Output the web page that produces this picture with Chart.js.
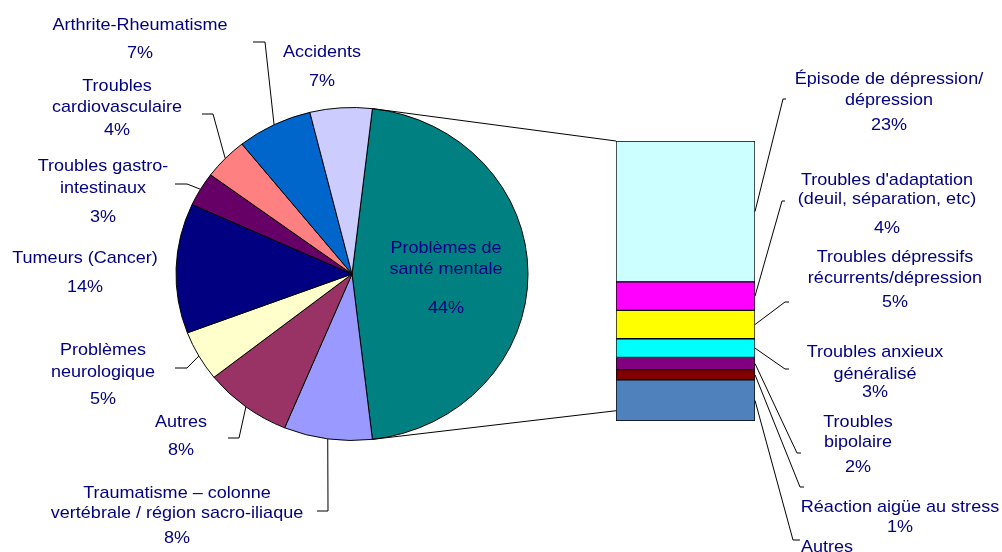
<!DOCTYPE html>
<html>
<head>
<meta charset="utf-8">
<script src="https://cdn.jsdelivr.net/npm/chart.js@4/dist/chart.umd.min.js"></script>
<style>
  html, body { margin: 0; padding: 0; background: #fff; }
  #wrap { position: relative; width: 1002px; height: 552px; overflow: hidden; }
  #wrap canvas { position: absolute; left: 0; top: 0; }
</style>
</head>
<body>
<div id="wrap">
  <canvas id="pie" width="1002" height="552"></canvas>
  <canvas id="bar" width="1002" height="552"></canvas>
</div>
<script>
// pie: causes (clockwise from the mental health slice)
const pieLabels = ['Problèmes de santé mentale', 'Traumatisme – colonne vertébrale / région sacro-iliaque',
  'Autres', 'Problèmes neurologique', 'Tumeurs (Cancer)', 'Troubles gastro-intestinaux',
  'Troubles cardiovasculaire', 'Arthrite-Rheumatisme', 'Accidents'];
const pieValues = [46.3, 8.1, 8.1, 4.9, 12.6, 3.3, 4.1, 6.9, 5.7];
const piePct = ['44%', '8%', '8%', '5%', '14%', '3%', '4%', '7%', '7%'];
const pieColors = ['#008080', '#9999FF', '#993366', '#FFFFCC', '#000080', '#660066', '#FF8080', '#0066CC', '#CCCCFF'];

// bar: split of the mental health slice (top to bottom)
const barLabels = ['Épisode de dépression/ dépression', "Troubles d'adaptation (deuil, séparation, etc)",
  'Troubles dépressifs récurrents/dépression', 'Troubles anxieux généralisé', 'Troubles bipolaire',
  'Réaction aigüe au stress', 'Autres'];
const barValues = [23.3, 4.7, 4.7, 3.1, 2.0, 1.7, 6.8];
const barPct = ['23%', '4%', '5%', '3%', '2%', '1%', '6%'];
const barColors = ['#CCFFFF', '#FF00FF', '#FFFF00', '#00FFFF', '#800080', '#800000', '#4F81BD'];

const TEXT = '#000080';
const FONT = '17px "Liberation Sans", Arial, sans-serif';
const Y_SQUASH = 0.946;   // the pie is a little flatter than round
const X_STRETCH = 1.06;   // text is a little wide too

// label layout: text lines, centre x, line y's, leader elbow + end (or null)
const pieLayout = [
  { lines: ['Problèmes de', 'santé mentale', '%'], x: 446, ys: [248, 269, 308], lead: null },
  { lines: ['Traumatisme – colonne', 'vertébrale / région sacro-iliaque', '%'], x: 177, ys: [493, 513, 538], lead: [[328, 511], [317, 511]] },
  { lines: ['Autres', '%'], x: 181, ys: [422, 450], lead: [[239, 438], [228, 438]] },
  { lines: ['Problèmes', 'neurologique', '%'], x: 103, ys: [350, 372, 399], lead: [[187, 368], [175, 368]] },
  { lines: ['Tumeurs (Cancer)', '%'], x: 85, ys: [258, 287], lead: null },
  { lines: ['Troubles gastro-', 'intestinaux', '%'], x: 103, ys: [166, 188, 217], lead: [[187, 184], [175, 184]] },
  { lines: ['Troubles', 'cardiovasculaire', '%'], x: 117, ys: [86, 107, 130], lead: [[213, 114], [202, 114]] },
  { lines: ['Arthrite-Rheumatisme', '%'], x: 140, ys: [25, 53], lead: [[265, 42], [253, 42]] },
  { lines: ['Accidents', '%'], x: 322, ys: [52, 81], lead: null }
];
const barLayout = [
  { lines: ['Épisode de dépression/', 'dépression', '%'], x: 889, ys: [79, 100, 125], lead: [[783, 99], [786, 99]] },
  { lines: ["Troubles d'adaptation", '(deuil, séparation, etc)', '%'], x: 887, ys: [180, 199, 228], lead: [[782, 201], [785, 201]] },
  { lines: ['Troubles dépressifs', 'récurrents/dépression', '%'], x: 895, ys: [257, 278, 302], lead: [[785, 302], [789, 302]] },
  { lines: ['Troubles anxieux', 'généralisé', '%'], x: 875, ys: [352, 374, 392], lead: [[785, 369], [789, 369]] },
  { lines: ['Troubles', 'bipolaire', '%'], x: 858, ys: [422, 442, 467], lead: [[797, 453], [801, 453]] },
  { lines: ['Réaction aigüe au stress', '%'], x: 900, ys: [507, 527], lead: [[800, 487], [804, 487]] },
  { lines: ['Autres'], x: 827, ys: [547], lead: [[793, 540], [800, 540]] }
];

function drawText(ctx, lay, pct) {
  ctx.save();
  ctx.font = FONT;
  ctx.fillStyle = TEXT;
  ctx.textAlign = 'center';
  ctx.textBaseline = 'middle';
  lay.lines.forEach(function(t, i) {
    const s = t === '%' ? pct : t;
    ctx.save();
    ctx.translate(lay.x, lay.ys[i]);
    ctx.scale(X_STRETCH, 1);
    ctx.fillText(s, 0, 0);
    ctx.restore();
  });
  ctx.restore();
}

function polyline(ctx, pts, color) {
  ctx.save();
  ctx.strokeStyle = color;
  ctx.lineWidth = 1;
  ctx.beginPath();
  ctx.moveTo(pts[0][0], pts[0][1]);
  for (let i = 1; i < pts.length; i++) ctx.lineTo(pts[i][0], pts[i][1]);
  ctx.stroke();
  ctx.restore();
}

function edgePoint(arc, angle) {
  return [arc.x + arc.outerRadius * Math.cos(angle), arc.y + arc.outerRadius * Y_SQUASH * Math.sin(angle)];
}

const ellipsePlugin = {
  id: 'ellipse',
  beforeDatasetsDraw(chart) {
    const arc = chart.getDatasetMeta(0).data[0];
    const ctx = chart.ctx;
    ctx.save();
    ctx.translate(arc.x, arc.y);
    ctx.scale(1, Y_SQUASH);
    ctx.translate(-arc.x, -arc.y);
  },
  afterDatasetsDraw(chart) {
    chart.ctx.restore();
  },
  afterDraw(chart) {
    const ctx = chart.ctx;
    const arcs = chart.getDatasetMeta(0).data;
    pieLayout.forEach(function(lay, i) {
      if (lay.lead) {
        const a = arcs[i];
        const p = edgePoint(a, (a.startAngle + a.endAngle) / 2);
        polyline(ctx, [p, lay.lead[0], lay.lead[1]], '#000');
      }
      drawText(ctx, lay, piePct[i]);
    });
  }
};

// centre the pie at ~(352,274), radius 176
const pieChart = new Chart(document.getElementById('pie'), {
  type: 'pie',
  data: {
    labels: pieLabels,
    datasets: [{
      data: pieValues,
      backgroundColor: pieColors,
      borderColor: '#000',
      borderWidth: 1,
      radius: 176
    }]
  },
  options: {
    responsive: false,
    animation: false,
    rotation: 90 - pieValues[0] / 100 * 180,
    layout: { padding: { left: 152, right: 450, top: 74, bottom: 78 } },
    plugins: { legend: { display: false }, tooltip: { enabled: false } }
  },
  plugins: [ellipsePlugin]
});

const barSum = barValues.reduce(function(a, b) { return a + b; }, 0);

const barLabelPlugin = {
  id: 'barLabels',
  afterDraw(chart) {
    const ctx = chart.ctx;
    const n = barValues.length;
    // connector lines from the mental health slice to the bar
    const arc = pieChart.getDatasetMeta(0).data[0];
    const topEl = chart.getDatasetMeta(n - 1).data[0];
    const botEl = chart.getDatasetMeta(0).data[0];
    const left = topEl.x - topEl.width / 2;
    polyline(ctx, [edgePoint(arc, arc.startAngle), [left, topEl.y]], '#000');
    polyline(ctx, [edgePoint(arc, arc.endAngle), [left, botEl.base - (botEl.base - botEl.y) / 4]], '#000');

    barLayout.forEach(function(lay, i) {
      const el = chart.getDatasetMeta(n - 1 - i).data[0];
      const p = [el.x + el.width / 2, (el.y + el.base) / 2];
      polyline(ctx, [p, lay.lead[0], lay.lead[1]], '#000');
      drawText(ctx, lay, barPct[i]);
    });
  }
};

// stacked from the bottom, so reverse the top-to-bottom lists
new Chart(document.getElementById('bar'), {
  type: 'bar',
  data: {
    labels: [''],
    datasets: barLabels.map(function(l, i) {
      return {
        label: l,
        data: [barValues[i]],
        backgroundColor: barColors[i],
        borderColor: '#000',
        borderWidth: 1,
        borderSkipped: false,
        barPercentage: 1,
        categoryPercentage: 1
      };
    }).reverse()
  },
  options: {
    responsive: false,
    animation: false,
    layout: { padding: { left: 616, right: 247, top: 141, bottom: 131 } },
    plugins: { legend: { display: false }, tooltip: { enabled: false } },
    scales: {
      x: { display: false, stacked: true },
      y: { display: false, stacked: true, min: 0, max: barSum }
    }
  },
  plugins: [barLabelPlugin]
});
</script>
</body>
</html>
